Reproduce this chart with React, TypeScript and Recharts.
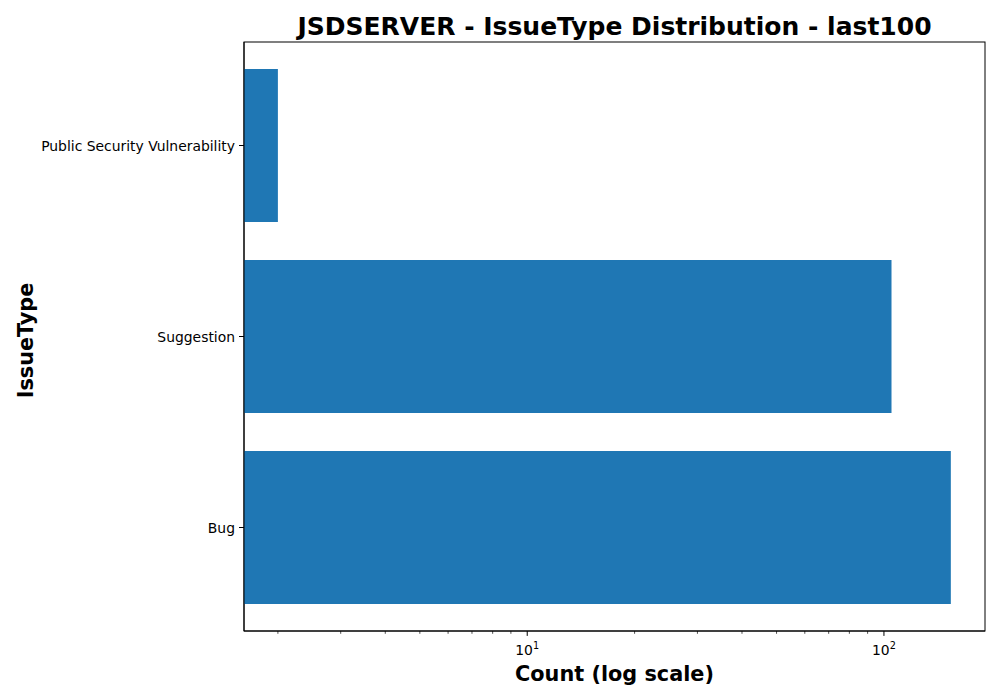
import * as Recharts from "recharts";
import { BarChart, Bar, XAxis, YAxis, Label } from "recharts";

// data
const issueTypes = ["Public Security Vulnerability", "Suggestion", "Bug"];
const counts = [2, 105, 154];
const majorTicks = [10, 100];
const minorTicks = [2, 3, 4, 5, 6, 7, 8, 9, 20, 30, 40, 50, 60, 70, 80, 90];
const xDomain = [1.607, 192];

const data = issueTypes.map((name, i) => ({ name, count: counts[i] }));
const allTicks = [...minorTicks, ...majorTicks].sort((a, b) => a - b);

const FONT = "'DejaVu Sans', sans-serif";

const usePlotBox: () => any = (Recharts as any).usePlotArea || (Recharts as any).useOffset || (() => null);

// full box around the plot area (matplotlib spines)
const PlotFrame = () => {
  const box = usePlotBox();
  if (!box) return null;
  const left = box.x ?? box.left;
  const top = box.y ?? box.top;
  return (
    <rect x={left} y={top} width={box.width} height={box.height} fill="none" stroke="#000" strokeWidth={1} />
  );
};

// matplotlib-like log tick: long line + 10^n for majors, short line for minors
const LogTick = (props: any) => {
  const { x, y, payload } = props;
  const v = payload.value;
  const major = majorTicks.includes(v);
  return (
    <g>
      <line
        x1={x}
        x2={x}
        y1={y}
        y2={y + (major ? 4.9 : 2.8)}
        stroke="#000"
        strokeWidth={major ? 1 : 0.7}
      />
      {major && (
        <text x={x} y={y + 24} textAnchor="middle" fontSize={13.9} fill="#000" fontFamily={FONT}>
          10
          <tspan dy={-6} fontSize={9.7}>
            {Math.round(Math.log10(v))}
          </tspan>
        </text>
      )}
    </g>
  );
};

const CatTick = (props: any) => {
  const { x, y, payload } = props;
  return (
    <text x={x} y={y + 1} dy="0.355em" textAnchor="end" fontSize={13.9} fill="#000" fontFamily={FONT}>
      {payload.value}
    </text>
  );
};

export default function App() {
  return (
    <div style={{ position: "absolute", left: 0, top: 0, width: 1000, height: 700, background: "#fff", fontFamily: FONT }}>
      <div
        style={{
          position: "absolute",
          left: 244,
          width: 741,
          top: 12,
          textAlign: "center",
          fontSize: 25,
          fontWeight: "bold",
          lineHeight: "30px",
          color: "#000",
        }}
      >
        JSDSERVER - IssueType Distribution - last100
      </div>
      <BarChart
        width={1000}
        height={700}
        data={data}
        layout="vertical"
        barCategoryGap="10%"
        margin={{ top: 42, right: 15, bottom: 0, left: 15 }}
      >
        <XAxis
          type="number"
          scale="log"
          dataKey="count"
          domain={xDomain}
          allowDataOverflow
          ticks={allTicks}
          interval={0}
          tick={<LogTick />}
          tickLine={false}
          tickSize={0}
          tickMargin={0}
          height={69}
          axisLine={{ stroke: "#000", strokeWidth: 1 }}
        >
          <Label
            content={(p: any) => (
              <text
                x={p.viewBox.x + p.viewBox.width / 2}
                y={p.viewBox.y + 50}
                textAnchor="middle"
                fontSize={20.8}
                fontWeight="bold"
                fill="#000"
                fontFamily={FONT}
              >
                Count (log scale)
              </text>
            )}
          />
        </XAxis>
        <YAxis
          type="category"
          dataKey="name"
          width={229}
          padding={{ top: 8, bottom: 8 }}
          tickSize={5}
          tickMargin={4}
          tick={<CatTick />}
          tickLine={{ stroke: "#000" }}
          axisLine={{ stroke: "#000", strokeWidth: 1 }}
        >
          <Label
            content={(p: any) => {
              const cx = p.viewBox.x + 11;
              const cy = p.viewBox.y + p.viewBox.height / 2 + 4;
              return (
                <text
                  x={cx}
                  y={cy}
                  transform={`rotate(-90, ${cx}, ${cy})`}
                  textAnchor="middle"
                  dominantBaseline="central"
                  fontSize={20.8}
                  fontWeight="bold"
                  fill="#000"
                  fontFamily={FONT}
                >
                  IssueType
                </text>
              );
            }}
          />
        </YAxis>
        <Bar dataKey="count" fill="#1f77b4" isAnimationActive={false} />
        <PlotFrame />
      </BarChart>
    </div>
  );
}
